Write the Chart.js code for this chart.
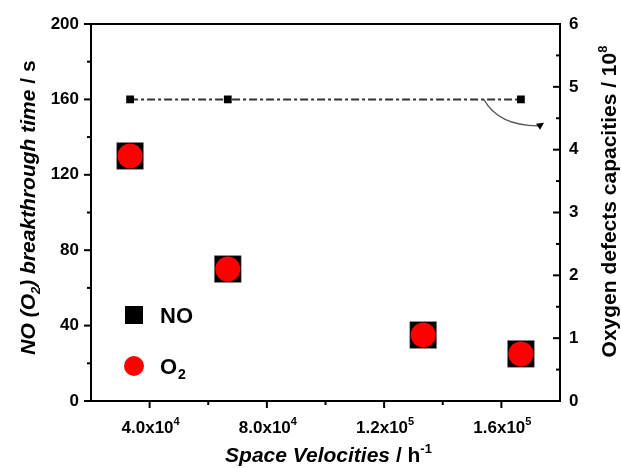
<!DOCTYPE html>
<html>
<head>
<meta charset="utf-8">
<script src="https://cdn.jsdelivr.net/npm/chart.js@4.4.1/dist/chart.umd.min.js"></script>
<style>
  html, body { margin: 0; padding: 0; background: #fff; }
  canvas { display: block; }
</style>
</head>
<body>
<canvas id="chart" width="621" height="468"></canvas>
<script>
// data
const spaceVelocities = [33333, 66667, 133333, 166667];
const noTimes = [130, 70, 35, 25];
const o2Times = [130, 70, 35, 25];
const defectVelocities = [33333, 66667, 166667];
const defectCapacities = [4.8, 4.8, 4.8];

const xMajorTicks = [40000, 80000, 120000, 160000];
const xMinorTicks = [60000, 100000, 140000];
const xTickMantissa = ['4.0x10', '8.0x10', '1.2x10', '1.6x10'];
const xTickExponent = ['4', '4', '5', '5'];
const yMajorTicks = [0, 40, 80, 120, 160, 200];
const yMinorTicks = [20, 60, 100, 140, 180];
const y1MajorTicks = [0, 1, 2, 3, 4, 5, 6];
const y1MinorTicks = [0.5, 1.5, 2.5, 3.5, 4.5, 5.5];

const FONT = '"Liberation Sans", Arial, sans-serif';

function toPoints(xs, ys) {
  return xs.map((x, i) => ({ x: x, y: ys[i] }));
}

// draws a line of text made of several styled pieces, centred on (cx, cy)
function drawRich(ctx, parts, cx, cy, angle) {
  ctx.save();
  ctx.translate(cx, cy);
  ctx.rotate(angle);
  let total = 0;
  parts.forEach(p => {
    ctx.font = p.font;
    p.w = ctx.measureText(p.text).width;
    total += p.w;
  });
  let x = -total / 2;
  ctx.textBaseline = 'alphabetic';
  ctx.textAlign = 'left';
  ctx.fillStyle = '#000';
  parts.forEach(p => {
    ctx.font = p.font;
    ctx.fillText(p.text, x, p.dy || 0);
    x += p.w;
  });
  ctx.restore();
}

const decorations = {
  id: 'decorations',
  afterDraw(chart) {
    const ctx = chart.ctx;
    const area = chart.chartArea;
    const xs = chart.scales.x, ys = chart.scales.y, y1s = chart.scales.y1;

    ctx.save();
    ctx.strokeStyle = '#000';
    ctx.lineWidth = 2;
    // top frame line
    ctx.beginPath();
    ctx.moveTo(area.left - 1, area.top);
    ctx.lineTo(area.right + 1, area.top);
    ctx.stroke();

    // tick marks
    const tick = (x1, y1, x2, y2) => { ctx.beginPath(); ctx.moveTo(x1, y1); ctx.lineTo(x2, y2); ctx.stroke(); };
    xMajorTicks.forEach(v => { const p = xs.getPixelForValue(v); tick(p, area.bottom, p, area.bottom + 7); });
    xMinorTicks.forEach(v => { const p = xs.getPixelForValue(v); tick(p, area.bottom, p, area.bottom + 4); });
    yMajorTicks.forEach(v => { const p = ys.getPixelForValue(v); tick(area.left, p, area.left - 7, p); });
    yMinorTicks.forEach(v => { const p = ys.getPixelForValue(v); tick(area.left, p, area.left - 4, p); });
    y1MajorTicks.forEach(v => { const p = y1s.getPixelForValue(v); tick(area.right, p, area.right - 7, p); });
    y1MinorTicks.forEach(v => { const p = y1s.getPixelForValue(v); tick(area.right, p, area.right - 4, p); });

    // curved arrow pointing the dash-dot line to the right axis
    const ax0 = xs.getPixelForValue(154000), ay0 = y1s.getPixelForValue(4.8);
    const axc = xs.getPixelForValue(159000), ayc = y1s.getPixelForValue(4.38);
    const ax1 = xs.getPixelForValue(172500), ay1 = y1s.getPixelForValue(4.38);
    ctx.strokeStyle = '#555';
    ctx.lineWidth = 1.2;
    ctx.beginPath();
    ctx.moveTo(ax0, ay0);
    ctx.quadraticCurveTo(axc, ayc, ax1, ay1);
    ctx.stroke();
    ctx.fillStyle = '#000';
    ctx.beginPath();
    ctx.moveTo(ax1 + 6, ay1 - 3);
    ctx.lineTo(ax1 - 2, ay1 - 2);
    ctx.lineTo(ax1 + 2, ay1 + 4);
    ctx.closePath();
    ctx.fill();

    // legend inside the plot
    ctx.fillStyle = '#000';
    ctx.fillRect(125, 306, 18, 18);
    ctx.fillStyle = '#ff0000';
    ctx.beginPath();
    ctx.arc(134, 366, 10, 0, Math.PI * 2);
    ctx.fill();
    ctx.fillStyle = '#000';
    ctx.textAlign = 'left';
    ctx.textBaseline = 'alphabetic';
    ctx.font = 'bold 22px ' + FONT;
    ctx.fillText('NO', 160, 323);
    ctx.fillText('O', 160, 374);
    const ow = ctx.measureText('O').width;
    ctx.font = 'bold 14px ' + FONT;
    ctx.fillText('2', 160 + ow + 1, 379);
    ctx.restore();

    // x tick labels with superscript exponents
    const tf = 'bold 17px ' + FONT;
    const ts = 'bold 11px ' + FONT;
    xMajorTicks.forEach((v, i) => {
      drawRich(ctx, [
        { text: xTickMantissa[i], font: tf },
        { text: xTickExponent[i], font: ts, dy: -8 }
      ], xs.getPixelForValue(v) + 1, 433, 0);
    });

    // axis titles
    const bi = 'italic bold 21px ' + FONT;
    const b = 'bold 21px ' + FONT;
    const bs = 'bold 13px ' + FONT;
    const bis = 'italic bold 13px ' + FONT;
    const midY = (area.top + area.bottom) / 2;
    drawRich(ctx, [
      { text: 'NO (O', font: bi },
      { text: '2', font: bis, dy: 5 },
      { text: ') breakthrough time', font: bi },
      { text: ' / s', font: b }
    ], 35, midY - 5, -Math.PI / 2);
    drawRich(ctx, [
      { text: 'Space Velocities', font: bi },
      { text: ' / h', font: b },
      { text: '-1', font: bs, dy: -9 }
    ], (area.left + area.right) / 2 + 3, 462, 0);
    drawRich(ctx, [
      { text: 'Oxygen defects capacities / 10', font: b },
      { text: '8', font: bs, dy: -9 }
    ], 616, midY - 11, -Math.PI / 2);
  }
};

new Chart(document.getElementById('chart'), {
  type: 'scatter',
  data: {
    datasets: [
      {
        label: 'O2',
        data: toPoints(spaceVelocities, o2Times),
        yAxisID: 'y',
        pointStyle: 'circle',
        pointRadius: 12.5,
        backgroundColor: '#ff0000',
        borderWidth: 0,
        order: 0
      },
      {
        label: 'NO',
        data: toPoints(spaceVelocities, noTimes),
        yAxisID: 'y',
        pointStyle: 'rect',
        pointRadius: 19,
        backgroundColor: '#000',
        borderColor: '#888',
        borderWidth: 0.5,
        order: 1
      },
      {
        label: 'Oxygen defects',
        type: 'line',
        data: toPoints(defectVelocities, defectCapacities),
        yAxisID: 'y1',
        showLine: true,
        borderColor: '#333',
        borderWidth: 2,
        borderDash: [8, 3, 3, 3],
        pointStyle: 'rect',
        pointRadius: 5.5,
        pointBackgroundColor: '#000',
        pointBorderWidth: 0,
        order: 2
      }
    ]
  },
  options: {
    responsive: false,
    animation: false,
    layout: { padding: { top: 24, left: 0, right: 0, bottom: 0 } },
    plugins: {
      legend: { display: false },
      tooltip: { enabled: false }
    },
    scales: {
      x: {
        type: 'linear',
        position: 'bottom',
        min: 20000,
        max: 180000,
        afterFit: s => { s.height = 67; },
        afterBuildTicks: s => { s.ticks = xMajorTicks.map(v => ({ value: v })); },
        ticks: { display: false },
        grid: { display: false, drawTicks: false, tickLength: 0 },
        border: { display: true, color: '#000', width: 2 }
      },
      y: {
        position: 'left',
        min: 0,
        max: 200,
        afterFit: s => { s.width = 91; },
        afterBuildTicks: s => { s.ticks = yMajorTicks.map(v => ({ value: v })); },
        ticks: {
          padding: 12,
          color: '#000',
          font: { family: FONT, size: 17, weight: 'bold' }
        },
        grid: { display: false, drawTicks: false, tickLength: 0 },
        border: { display: true, color: '#000', width: 2 }
      },
      y1: {
        position: 'right',
        min: 0,
        max: 6,
        afterFit: s => { s.width = 61; },
        afterBuildTicks: s => { s.ticks = y1MajorTicks.map(v => ({ value: v })); },
        ticks: {
          padding: 9,
          color: '#000',
          font: { family: FONT, size: 17, weight: 'bold' }
        },
        grid: { display: false, drawTicks: false, tickLength: 0 },
        border: { display: true, color: '#000', width: 2 }
      }
    }
  },
  plugins: [decorations]
});
</script>
</body>
</html>
